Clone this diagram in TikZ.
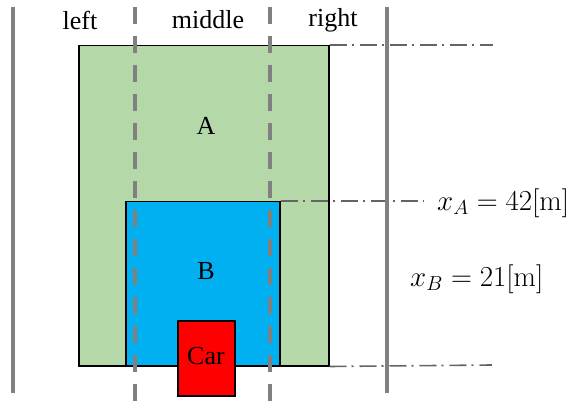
\RequirePackage{fix-cm}
\documentclass[tikz,border=0pt]{standalone}
\usepackage[no-math]{fontspec}
\setmainfont{Liberation Serif}
\definecolor{greenA}{RGB}{181,216,168}
\definecolor{blueB}{RGB}{0,176,240}
\definecolor{redC}{RGB}{255,0,0}
\definecolor{lineG}{RGB}{128,128,128}
\definecolor{ddG}{RGB}{100,100,100}
\tikzset{
  solidline/.style={draw=lineG, line width=4pt},
  dashline/.style={draw=lineG, line width=4pt, dash pattern=on 17pt off 12pt},
  dashdotline/.style={draw=ddG, line width=1.6pt, dash pattern=on 17pt off 5pt on 2pt off 6pt},
  boxnode/.style={draw=black, line width=1.5pt, anchor=north west, inner sep=0pt},
  lbl/.style={font=\fontsize{26}{30}\selectfont, inner sep=0pt},
  mathlbl/.style={font=\fontsize{29}{33}\selectfont, inner sep=0pt, anchor=west}
}
\begin{document}
\begin{tikzpicture}[x=1pt,y=-1pt]
\useasboundingbox (0,0) rectangle (571,401);
% boxes
\node[boxnode, fill=greenA, minimum width=250pt, minimum height=320pt] (ra) at (78,45) {};
\node[boxnode, fill=blueB, minimum width=154pt, minimum height=164pt] (rb) at (125,201) {};
% dashed lines
\coordinate (d1t) at (135,7); \coordinate (d1b) at (135,401);
\coordinate (d2t) at (270,7); \coordinate (d2b) at (270,401);
\draw[dashline] (d1t) -- (d1b);
\draw[dashline] (d2t) -- (d2b);
% car
\node[boxnode, fill=redC, minimum width=57pt, minimum height=75pt] (rc) at (177,320) {};
% dash-dot lines
\coordinate (e1) at (493,45);
\coordinate (e2) at (423,201);
\coordinate (e3) at (492,365);
\draw[dashdotline] (ra.north east) -- (e1);
\draw[dashdotline] (rb.north east) -- (e2);
\draw[dashdotline] (ra.south east) -- (e3);
% solid lines
\coordinate (s1t) at (13,7); \coordinate (s1b) at (13,393);
\coordinate (s2t) at (387,7); \coordinate (s2b) at (387,393);
\draw[solidline] (s1t) -- (s1b);
\draw[solidline] (s2t) -- (s2b);
% labels
\node[lbl] (tleft) at (80,20) {left};
\node[lbl] (tmid) at (208,20) {middle};
\node[lbl] (tright) at (333,20) {right};
\node[lbl] (ta) at (206,126) {A};
\node[lbl] (tb) at (206,271) {B};
\node[lbl] (tc) at (206,356) {Car};
\node[mathlbl] (xa) at (437,203) {$x_A = 42[\mathrm{m}]$};
\node[mathlbl] (xb) at (410,279) {$x_B = 21[\mathrm{m}]$};
\end{tikzpicture}
\end{document}
